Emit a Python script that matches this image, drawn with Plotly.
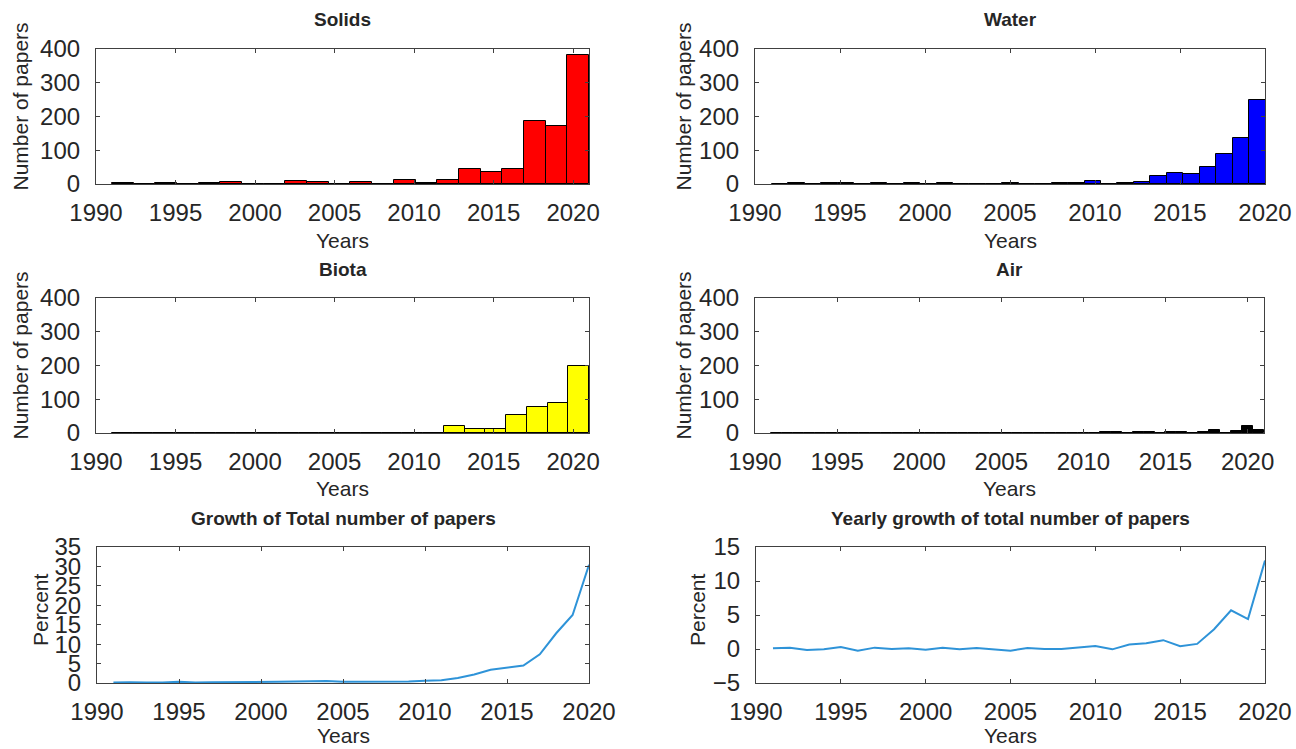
import numpy as np
import plotly.graph_objects as go

# ---------------- data ----------------
year_ticks = [1990, 1995, 2000, 2005, 2010, 2015, 2020]

# histogram counts (bins spread evenly over the data range 1991-2021)
solids_counts = [2, 0, 2, 0, 2, 7, 0, 1, 9, 5, 1, 7, 1, 12, 4, 12, 45, 35, 45, 187, 172, 383]
solids_nbins = 22

water_counts = [0, 2, 0, 2, 2, 0, 2, 0, 2, 0, 3, 1, 1, 1, 2, 0, 0, 2, 3, 9,
                1, 4, 5, 25, 32, 30, 50, 89, 136, 250]
water_nbins = 31

biota_counts = [1, 0, 1, 0, 1, 0, 1, 0, 1, 1, 0, 0, 1, 1, 1, 1, 20, 12, 12, 54, 76, 89, 200]
biota_nbins = 23

air_counts = [0, 0, 0, 0, 0, 0, 0, 0, 0, 0, 0, 0, 0, 0, 0, 1, 0, 0, 0, 1,
              0, 0, 1, 0, 0, 0, 0, 0, 0, 1, 2, 2, 0, 4, 4, 0, 2, 2, 0, 3,
              8, 0, 6, 22, 10]
air_nbins = 45

hist_lo, hist_hi = 1991, 2021

line_years = list(range(1991, 2021))
growth_total = [0.1, 0.2, 0.1, 0.1, 0.3, 0.1, 0.2, 0.2, 0.3, 0.3,
                0.3, 0.4, 0.4, 0.5, 0.3, 0.3, 0.3, 0.3, 0.4, 0.6,
                0.7, 1.3, 2.2, 3.4, 3.9, 4.5, 7.4, 12.8, 17.5, 30.4]
yearly_growth = [0.1, 0.2, -0.15, -0.05, 0.3, -0.25, 0.2, 0.0, 0.1, -0.1,
                 0.2, -0.05, 0.15, 0.0, -0.25, 0.15, 0.0, 0.0, 0.2, 0.45,
                 -0.05, 0.65, 0.85, 1.3, 0.4, 0.75, 2.9, 5.7, 4.4, 13.0]

# ---------------- layout helpers ----------------
W, H = 1296, 749
FONT = "Liberation Sans, Arial, sans-serif"
TXT = "#262626"
AX = "#404040"
TICKF = 24
LABF = 21


def px_x(x):
    return x / W


def px_y(y):
    return 1 - y / H


panels = {
    # name: (left, right, top, bottom) in page pixels
    "solids": (96, 589, 49, 184),
    "water": (755, 1265, 49, 184),
    "biota": (96, 589, 298, 433),
    "air": (755, 1264, 298, 433),
    "growth": (97, 589, 547, 683),
    "yearly": (756, 1265, 547, 683),
}
order = ["solids", "water", "biota", "air", "growth", "yearly"]

fig = go.Figure()


def hist_trace(counts, nbins, color, idx):
    edges = np.linspace(hist_lo, hist_hi, nbins + 1)
    centers = (edges[:-1] + edges[1:]) / 2
    width = (hist_hi - hist_lo) / nbins
    n = len(counts)
    return go.Bar(x=centers[:n], y=counts, width=[width] * n,
                  marker=dict(color=color, line=dict(color="black", width=1)),
                  xaxis="x" + ("" if idx == 1 else str(idx)),
                  yaxis="y" + ("" if idx == 1 else str(idx)),
                  showlegend=False)


fig.add_trace(hist_trace(solids_counts, solids_nbins, "#FF0000", 1))
fig.add_trace(hist_trace(water_counts, water_nbins, "#0000FF", 2))
fig.add_trace(hist_trace(biota_counts, biota_nbins, "#FFFF00", 3))
fig.add_trace(hist_trace(air_counts, air_nbins, "#000000", 4))
fig.add_trace(go.Scatter(x=line_years, y=growth_total, mode="lines",
                         line=dict(color="#2E93D8", width=2),
                         xaxis="x5", yaxis="y5", showlegend=False))
fig.add_trace(go.Scatter(x=line_years, y=yearly_growth, mode="lines",
                         line=dict(color="#2E93D8", width=2),
                         xaxis="x6", yaxis="y6", showlegend=False))

xranges = {"solids": [1990, 2021], "water": [1990, 2020], "biota": [1990, 2021],
           "air": [1990, 2021], "growth": [1990, 2020], "yearly": [1990, 2020]}
yranges = {"solids": [0, 400], "water": [0, 400], "biota": [0, 400], "air": [0, 400],
           "growth": [0, 35], "yearly": [-5, 15]}
ydticks = {"solids": 100, "water": 100, "biota": 100, "air": 100, "growth": 5, "yearly": 5}

layout = {}
for i, name in enumerate(order, start=1):
    l, r, t, b = panels[name]
    common = dict(showline=True, mirror="ticks", linecolor=AX, linewidth=1.2,
                  ticks="inside", ticklen=4, tickcolor=AX, tickwidth=1,
                  showgrid=False, zeroline=False, automargin=False,
                  tickfont=dict(family=FONT, size=TICKF, color=TXT))
    sfx = "" if i == 1 else str(i)
    layout["xaxis" + sfx] = dict(common, domain=[px_x(l), px_x(r)],
                                 range=xranges[name], tickvals=year_ticks,
                                 anchor="y" + sfx, ticklabelstandoff=7,
                                 ticklabeloverflow="allow")
    layout["yaxis" + sfx] = dict(common, domain=[px_y(b), px_y(t)],
                                 range=yranges[name], dtick=ydticks[name], tick0=0,
                                 anchor="x" + sfx, ticklabelstandoff=10)

fig.update_layout(**layout)

titles = {"solids": "Solids", "water": "Water", "biota": "Biota", "air": "Air",
          "growth": "Growth of Total number of papers",
          "yearly": "Yearly growth of total number of papers"}
ylabels = {"solids": "Number of papers", "water": "Number of papers",
           "biota": "Number of papers", "air": "Number of papers",
           "growth": "Percent", "yearly": "Percent"}
ylabel_x = {"solids": 20, "water": 683, "biota": 20, "air": 683, "growth": 40, "yearly": 697}

ann = []
for name in order:
    l, r, t, b = panels[name]
    cx = (l + r) / 2
    years_off = 52 if name in ("growth", "yearly") else 56
    ann.append(dict(text="<b>%s</b>" % titles[name], x=px_x(cx), y=px_y(t - 29),
                    xref="paper", yref="paper", xanchor="center", yanchor="middle",
                    showarrow=False, font=dict(family=FONT, size=19, color=TXT)))
    ann.append(dict(text="Years", x=px_x(cx), y=px_y(b + years_off),
                    xref="paper", yref="paper", xanchor="center", yanchor="middle",
                    showarrow=False, font=dict(family=FONT, size=LABF, color=TXT)))
    ann.append(dict(text=ylabels[name], x=px_x(ylabel_x[name]),
                    y=px_y((t + b) / 2 - 10 if name in ("solids", "water", "biota", "air") else (t + b) / 2 - 5),
                    xref="paper", yref="paper", xanchor="center", yanchor="middle",
                    textangle=-90, showarrow=False,
                    font=dict(family=FONT, size=LABF, color=TXT)))

fig.update_layout(width=W, height=H, margin=dict(l=0, r=0, t=0, b=0),
                  paper_bgcolor="white", plot_bgcolor="white",
                  annotations=ann, bargap=0, showlegend=False)

# remove the default 8px page margin so the figure fills the window exactly
fig.write_html("out.html", config={"displayModeBar": False},
               post_script="document.body.style.margin='0px';document.body.style.overflow='hidden';")
